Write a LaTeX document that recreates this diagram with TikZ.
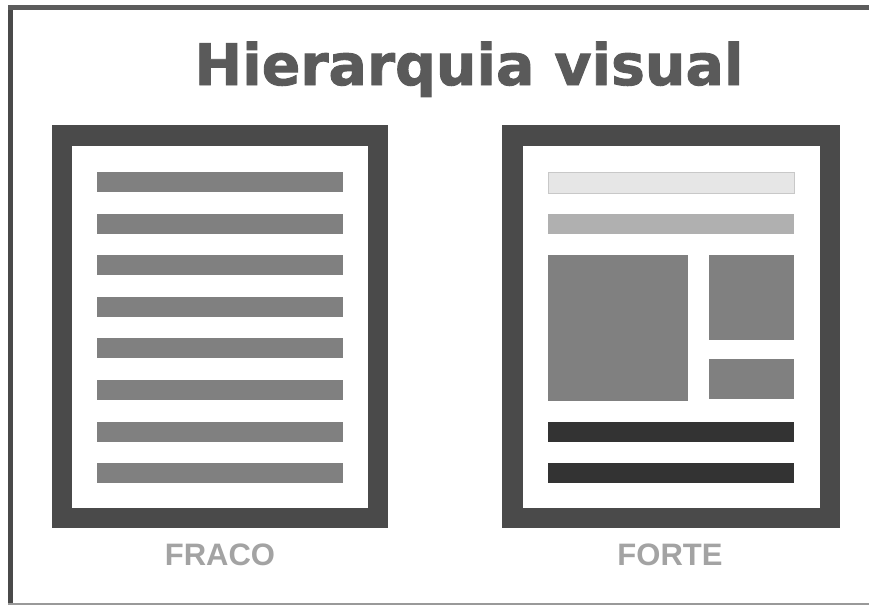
\documentclass[tikz,border=0pt]{standalone}
\usepackage{fontspec}
\newfontfamily\titlefont[FakeBold=1.6]{DejaVu Sans Bold}
\newfontfamily\labelfont{Liberation Sans}
\definecolor{framec}{HTML}{4A4A4A}
\definecolor{barc}{HTML}{808080}
\definecolor{lightbar}{HTML}{E6E6E6}
\definecolor{lightbarline}{HTML}{C8C8C8}
\definecolor{midbar}{HTML}{B0B0B0}
\definecolor{darkbar}{HTML}{333333}
\definecolor{titlec}{HTML}{5A5A5A}
\definecolor{labelc}{HTML}{A3A3A3}
\begin{document}
\begin{tikzpicture}[x=1pt,y=-1pt,
  page/.style={fill=framec},
  paper/.style={fill=white},
  graybar/.style={fill=barc},
  lbl/.style={font=\labelfont\bfseries\fontsize{31}{31}\selectfont, text=labelc, inner sep=0pt, anchor=base}]
\useasboundingbox (0,0) rectangle (869,605);
\fill[white] (0,0) rectangle (869,605);
% outer border
\fill[framec] (8,5) rectangle (13,605);
\fill[framec!90] (8,5) rectangle (869,10);
\fill[gray!80] (8,603) rectangle (869,605);
% title
\node[font=\titlefont\fontsize{57}{57}\selectfont, text=titlec, inner sep=0pt, anchor=base] (title) at (469,85) {Hierarquia visual};
% left page
\fill[page] (52,125) rectangle (388,528);
\fill[paper] (72,146) rectangle (368,508);
\foreach \y [count=\i] in {172,213.5,255,296.5,338,380,421.5,463}
  \fill[graybar] (97,\y) rectangle (343,\y+20);
\node[lbl] (fraco) at (220,565) {FRACO};
% right page
\fill[page] (502,125) rectangle (840,528);
\fill[paper] (523,146) rectangle (820,508);
\filldraw[fill=lightbar, draw=lightbarline, line width=0.8pt] (548,172) rectangle (794,193);
\fill[midbar] (548,214) rectangle (794,234);
\fill[barc] (548,255) rectangle (688,401);
\fill[barc] (709,255) rectangle (794,340);
\fill[barc] (709,359) rectangle (794,399);
\fill[darkbar] (548,422) rectangle (794,442);
\fill[darkbar] (548,463) rectangle (794,483);
\node[lbl] (forte) at (670,565) {FORTE};
\end{tikzpicture}
\end{document}
